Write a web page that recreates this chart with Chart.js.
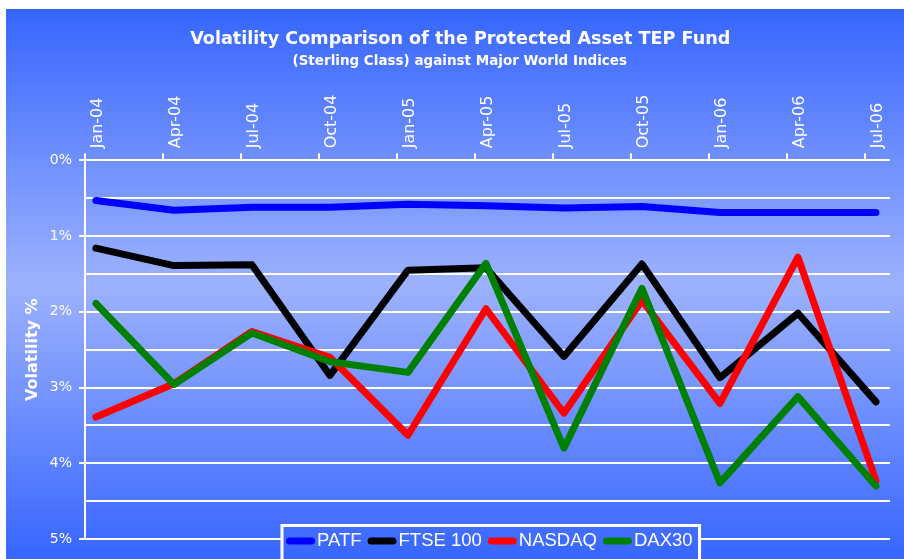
<!DOCTYPE html>
<html>
<head>
<meta charset="utf-8">
<script src="https://cdn.jsdelivr.net/npm/chart.js@4"></script>
<style>
  html, body { margin: 0; padding: 0; background: #fff; }
  canvas { display: block; }
</style>
</head>
<body>
<canvas id="volChart" width="904" height="559"></canvas>
<script>
const months  = ['Jan-04', 'Apr-04', 'Jul-04', 'Oct-04', 'Jan-05', 'Apr-05', 'Jul-05', 'Oct-05', 'Jan-06', 'Apr-06', 'Jul-06'];
const patf    = [0.53, 0.66, 0.62, 0.62, 0.58, 0.60, 0.63, 0.61, 0.69, 0.69, 0.69];
const ftse100 = [1.16, 1.39, 1.38, 2.84, 1.45, 1.42, 2.59, 1.37, 2.87, 2.02, 3.19];
const nasdaq  = [3.39, 2.95, 2.26, 2.60, 3.63, 1.96, 3.34, 1.85, 3.21, 1.28, 4.23];
const dax30   = [1.89, 2.96, 2.28, 2.66, 2.80, 1.36, 3.80, 1.69, 4.26, 3.12, 4.30];
const yLabels = ['0%', '1%', '2%', '3%', '4%', '5%'];

let bgGradient = null;

function getGradient(ctx) {
    if (!bgGradient) {
        bgGradient = ctx.createLinearGradient(0, 9, 0, 559);
        bgGradient.addColorStop(0, '#3766ff');
        bgGradient.addColorStop(0.5, '#9db2fd');
        bgGradient.addColorStop(1, '#3766ff');
    }
    return bgGradient;
}

// blue panel behind everything
const panelBackground = {
    id: 'panelBackground',
    beforeDraw(chart) {
        const ctx = chart.ctx;
        ctx.save();
        ctx.fillStyle = '#ffffff';
        ctx.fillRect(0, 0, chart.width, chart.height);
        ctx.fillStyle = getGradient(ctx);
        ctx.fillRect(6, 9, chart.width - 6, chart.height - 9);
        ctx.restore();
    }
};

// boxed legend that sits over the bottom of the plot
const boxedLegend = {
    id: 'boxedLegend',
    afterDraw(chart) {
        const ctx = chart.ctx;
        const area = chart.chartArea;
        const items = chart.data.datasets.slice().sort((a, b) => b.order - a.order);
        ctx.save();
        ctx.font = '18.5px "Liberation Sans", Arial, sans-serif';
        const swatch = 29;
        let total = 0;
        items.forEach((ds, i) => {
            total += swatch + 2 + ctx.measureText(ds.label).width + (i < items.length - 1 ? 6 : 0);
        });
        const padX = 4;
        const boxW = total + padX * 2 + 3;
        const boxLeft = Math.round((area.left + area.right) / 2 - boxW / 2) + 3;
        const boxTop = 525.5;
        const midY = area.bottom + 2;

        ctx.fillStyle = getGradient(ctx);
        ctx.fillRect(boxLeft, boxTop, boxW, chart.height - boxTop + 5);
        ctx.strokeStyle = '#ffffff';
        ctx.lineWidth = 3;
        ctx.strokeRect(boxLeft, boxTop, boxW, chart.height - boxTop + 5);

        let x = boxLeft + padX;
        items.forEach(ds => {
            ctx.strokeStyle = ds.borderColor;
            ctx.lineWidth = 7;
            ctx.lineCap = 'round';
            ctx.beginPath();
            ctx.moveTo(x + 3.5, midY);
            ctx.lineTo(x + swatch - 3.5, midY);
            ctx.stroke();
            ctx.fillStyle = '#ffffff';
            ctx.textBaseline = 'middle';
            ctx.textAlign = 'left';
            ctx.fillText(ds.label, x + swatch + 2, midY);
            x += swatch + 2 + ctx.measureText(ds.label).width + 6;
        });
        ctx.restore();
    }
};

function series(label, values, color, order) {
    return {
        label: label,
        data: values.map((v, i) => ({ x: i, y: v })),
        borderColor: color,
        backgroundColor: color,
        borderWidth: 7,
        borderCapStyle: 'round',
        borderJoinStyle: 'round',
        pointRadius: 0,
        tension: 0,
        fill: false,
        order: order
    };
}

const monthTicks = s => { s.ticks = months.map((m, i) => ({ value: i })); };

new Chart(document.getElementById('volChart'), {
    type: 'line',
    data: {
        datasets: [
            series('PATF', patf, '#0000ff', 4),
            series('FTSE 100', ftse100, '#000000', 3),
            series('NASDAQ', nasdaq, '#ff0000', 2),
            series('DAX30', dax30, '#008000', 1)
        ]
    },
    options: {
        responsive: false,
        animation: false,
        devicePixelRatio: 1,
        layout: { padding: { left: 6, top: 9, right: 14, bottom: 20 } },
        plugins: {
            legend: { display: false },
            tooltip: { enabled: false },
            title: {
                display: true,
                // leading spaces nudge the centred heading right, as in the original
                text: '\u00a0\u00a0\u00a0\u00a0Volatility Comparison of the Protected Asset TEP Fund',
                color: '#ffffff',
                font: { family: 'DejaVu Sans', size: 17.6, weight: 'bold' },
                padding: { top: 20, bottom: 0 }
            },
            subtitle: {
                display: true,
                text: '\u00a0\u00a0\u00a0\u00a0\u00a0(Sterling Class) against Major World Indices',
                color: '#ffffff',
                font: { family: 'DejaVu Sans', size: 13.5, weight: 'bold' },
                padding: { top: 3, bottom: 0 }
            }
        },
        scales: {
            x: {
                type: 'linear',
                position: 'top',
                weight: 1,
                min: -0.14,
                max: 10.18,
                afterBuildTicks: monthTicks,
                afterFit: s => { s.height = 84; },
                grid: { display: false, drawTicks: false },
                border: { display: false },
                ticks: {
                    color: '#ffffff',
                    font: { family: 'DejaVu Sans', size: 16 },
                    minRotation: 90,
                    maxRotation: 90,
                    autoSkip: false,
                    padding: 5,
                    labelOffset: 21,
                    callback: v => months[v]
                }
            },
            xTicks: {
                type: 'linear',
                position: 'top',
                weight: 0,
                min: 0,
                max: 10.32,
                afterBuildTicks: monthTicks,
                afterFit: s => { s.height = 7; },
                grid: { drawOnChartArea: false, color: '#ffffff', lineWidth: 2, tickLength: 7 },
                border: { display: false },
                ticks: { display: false }
            },
            y: {
                reverse: true,
                min: 0,
                max: 5,
                afterFit: s => { s.width = 79; },
                ticks: {
                    stepSize: 0.5,
                    color: '#ffffff',
                    font: { family: 'DejaVu Sans', size: 14 },
                    padding: 7,
                    callback: v => Number.isInteger(v) ? yLabels[v] : ''
                },
                grid: {
                    color: '#ffffff',
                    lineWidth: 2,
                    tickLength: 6,
                    tickColor: c => (c.tick && Number.isInteger(c.tick.value)) ? '#ffffff' : 'rgba(0,0,0,0)'
                },
                border: { color: '#ffffff', width: 2 },
                title: {
                    display: true,
                    text: 'Volatility %',
                    color: '#ffffff',
                    font: { family: 'DejaVu Sans', size: 16, weight: 'bold' },
                    padding: { top: 17, bottom: 0 }
                }
            }
        }
    },
    plugins: [panelBackground, boxedLegend]
});
</script>
</body>
</html>
